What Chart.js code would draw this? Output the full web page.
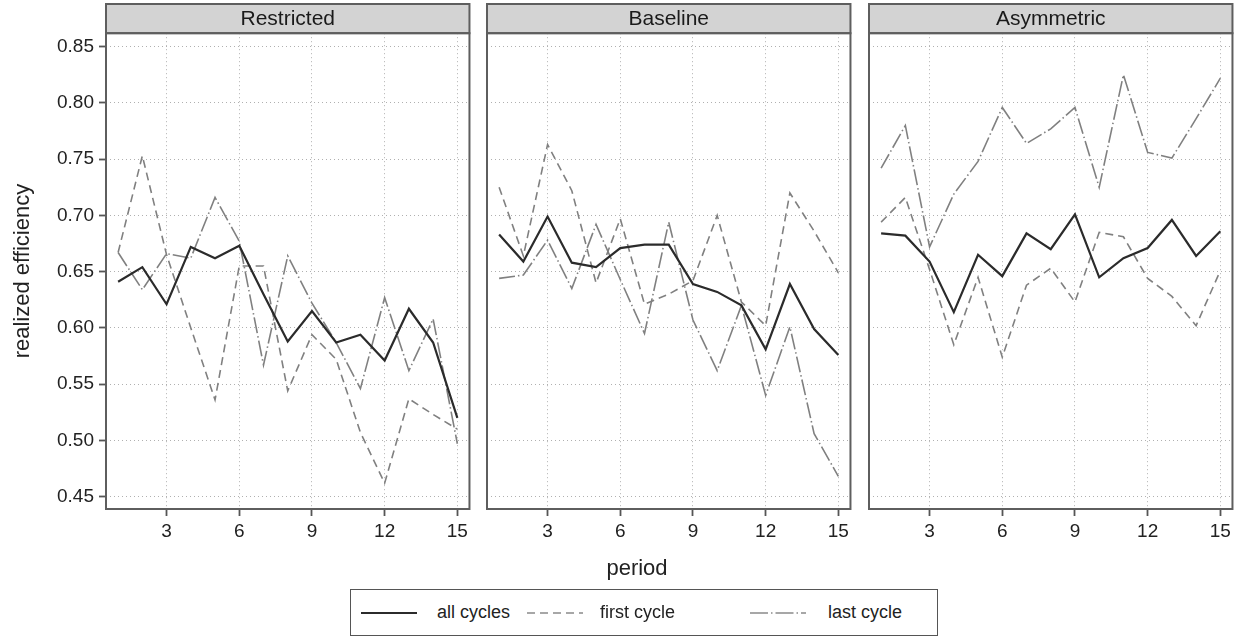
<!DOCTYPE html>
<html>
<head>
<meta charset="utf-8">
<script src="https://cdn.jsdelivr.net/npm/chart.js@4.4.0/dist/chart.umd.min.js"></script>
<style>
  body { margin: 0; background: #fff; font-family: "Liberation Sans", Arial, sans-serif; }
  #wrap { position: relative; width: 1242px; height: 637px; overflow: hidden; }
  .panel { position: absolute; top: 0; height: 560px; }
  #xtitle { position: absolute; left: 637px; top: 555px; transform: translateX(-50%); font-size: 22px; color: #222; }
  #legend { position: absolute; left: 350px; top: 589px; width: 588px; height: 47px; border: 1.5px solid #555; box-sizing: border-box; font-size: 18px; color: #222; }
  #legend .item { position: absolute; top: 0; height: 44px; line-height: 44px; }
  #legend svg { position: absolute; top: 21px; }
</style>
</head>
<body>
<div id="wrap">
  <canvas id="p1" class="panel" style="left:0px" width="472" height="560"></canvas>
  <canvas id="p2" class="panel" style="left:485px" width="368" height="560"></canvas>
  <canvas id="p3" class="panel" style="left:867px" width="368" height="560"></canvas>
  <div id="xtitle">period</div>
  <div id="legend">
    <svg style="left:10px" width="56" height="4"><line x1="0" y1="2" x2="56" y2="2" stroke="#2b2b2b" stroke-width="2.2"/></svg>
    <span class="item" style="left:86px">all cycles</span>
    <svg style="left:176px" width="56" height="4"><line x1="0" y1="2" x2="56" y2="2" stroke="#8a8a8a" stroke-width="1.6" stroke-dasharray="8 5"/></svg>
    <span class="item" style="left:249px">first cycle</span>
    <svg style="left:399px" width="56" height="4"><line x1="0" y1="2" x2="56" y2="2" stroke="#8a8a8a" stroke-width="1.6" stroke-dasharray="18 3 1.5 3"/></svg>
    <span class="item" style="left:477px">last cycle</span>
  </div>
</div>
<script>
// periods on the x axis
const periods = [1, 2, 3, 4, 5, 6, 7, 8, 9, 10, 11, 12, 13, 14, 15];
const xTicks = [3, 6, 9, 12, 15];
const yTicks = [0.45, 0.50, 0.55, 0.60, 0.65, 0.70, 0.75, 0.80, 0.85];
const seriesNames = ['all cycles', 'first cycle', 'last cycle'];

// Restricted
const restrictedAll   = [0.641, 0.654, 0.621, 0.672, 0.662, 0.673, 0.630, 0.588, 0.615, 0.587, 0.594, 0.571, 0.617, 0.587, 0.520];
const restrictedFirst = [0.667, 0.753, 0.665, 0.600, 0.536, 0.655, 0.655, 0.544, 0.594, 0.572, 0.507, 0.462, 0.537, 0.523, 0.510];
const restrictedLast  = [0.667, 0.634, 0.666, 0.662, 0.716, 0.677, 0.567, 0.664, 0.622, 0.587, 0.546, 0.627, 0.562, 0.608, 0.497];

// Baseline
const baselineAll   = [0.683, 0.659, 0.699, 0.658, 0.654, 0.671, 0.674, 0.674, 0.639, 0.632, 0.620, 0.581, 0.639, 0.599, 0.576];
const baselineFirst = [0.725, 0.664, 0.763, 0.722, 0.640, 0.697, 0.621, 0.630, 0.642, 0.700, 0.623, 0.602, 0.720, 0.686, 0.649];
const baselineLast  = [0.644, 0.647, 0.678, 0.635, 0.692, 0.643, 0.595, 0.694, 0.607, 0.562, 0.620, 0.540, 0.601, 0.506, 0.468];

// Asymmetric
const asymmetricAll   = [0.684, 0.682, 0.659, 0.614, 0.665, 0.646, 0.684, 0.670, 0.701, 0.645, 0.662, 0.671, 0.696, 0.664, 0.686];
const asymmetricFirst = [0.694, 0.716, 0.652, 0.585, 0.645, 0.574, 0.638, 0.653, 0.623, 0.685, 0.681, 0.644, 0.628, 0.602, 0.651];
const asymmetricLast  = [0.742, 0.780, 0.672, 0.719, 0.748, 0.796, 0.764, 0.777, 0.796, 0.725, 0.825, 0.756, 0.751, 0.786, 0.822];

const FONT = '"Liberation Sans", Arial, sans-serif';

// strip header + frame around each panel
const framePlugin = {
    id: 'frame',
    beforeDraw(chart) {
        const { ctx, chartArea: a } = chart;
        ctx.save();
        ctx.fillStyle = '#d3d3d3';
        ctx.fillRect(a.left, 4, a.right - a.left, a.top - 4);
        ctx.restore();
    },
    afterDraw(chart) {
        const { ctx, chartArea: a } = chart;
        ctx.save();
        ctx.strokeStyle = '#5e5e5e';
        ctx.lineWidth = 2;
        ctx.strokeRect(a.left, 4, a.right - a.left, a.top - 4);
        ctx.strokeRect(a.left, a.top, a.right - a.left, a.bottom - a.top);
        ctx.restore();
    }
};

const toPoints = (vals) => vals.map((v, i) => ({ x: periods[i], y: v }));

const makePanel = (id, title, all, first, last, showY) => {
    new Chart(document.getElementById(id).getContext('2d'), {
        type: 'line',
        data: {
            datasets: [
                { label: seriesNames[0], data: toPoints(all), borderColor: '#2b2b2b', borderWidth: 2.2, pointRadius: 0, tension: 0 },
                { label: seriesNames[1], data: toPoints(first), borderColor: '#808080', borderWidth: 1.6, borderDash: [8, 5], pointRadius: 0, tension: 0 },
                { label: seriesNames[2], data: toPoints(last), borderColor: '#808080', borderWidth: 1.6, borderDash: [16, 3, 1.5, 3], pointRadius: 0, tension: 0 }
            ]
        },
        options: {
            responsive: false,
            animation: false,
            layout: { padding: { top: 4, right: 2, bottom: 0, left: showY ? 0 : 2 } },
            scales: {
                x: {
                    type: 'linear',
                    min: 0.5,
                    max: 15.5,
                    afterBuildTicks: (scale) => { scale.ticks = xTicks.map(v => ({ value: v })); },
                    afterFit: (scale) => { scale.height = 51; },
                    ticks: { color: '#222', font: { family: FONT, size: 19 }, padding: 4, maxRotation: 0 },
                    grid: { color: '#b0b0b0', lineWidth: 1, tickLength: 7, tickColor: '#555', tickWidth: 1.8, tickBorderDash: [] },
                    border: { display: false, dash: [1, 3] }
                },
                y: {
                    min: 0.439,
                    max: 0.862,
                    afterBuildTicks: (scale) => { scale.ticks = yTicks.map(v => ({ value: v })); },
                    afterFit: (scale) => { scale.width = showY ? 106 : 0; },
                    ticks: { display: showY, color: '#222', font: { family: FONT, size: 19 }, padding: 5, callback: (v) => v.toFixed(2) },
                    grid: { color: '#b0b0b0', lineWidth: 1, drawTicks: showY, tickLength: 7, tickColor: '#555', tickWidth: 1.8, tickBorderDash: [] },
                    border: { display: false, dash: [1, 3] },
                    title: { display: showY, text: 'realized efficiency', color: '#222', font: { family: FONT, size: 22 }, padding: { top: 10 } }
                }
            },
            plugins: {
                legend: { display: false },
                tooltip: { enabled: false },
                title: {
                    display: true,
                    text: title,
                    fullSize: false,
                    color: '#1a1a1a',
                    font: { family: FONT, size: 21, weight: 'normal' },
                    padding: { top: 3, bottom: 1 }
                }
            }
        },
        plugins: [framePlugin]
    });
};

makePanel('p1', 'Restricted', restrictedAll, restrictedFirst, restrictedLast, true);
makePanel('p2', 'Baseline', baselineAll, baselineFirst, baselineLast, false);
makePanel('p3', 'Asymmetric', asymmetricAll, asymmetricFirst, asymmetricLast, false);
</script>
</body>
</html>
